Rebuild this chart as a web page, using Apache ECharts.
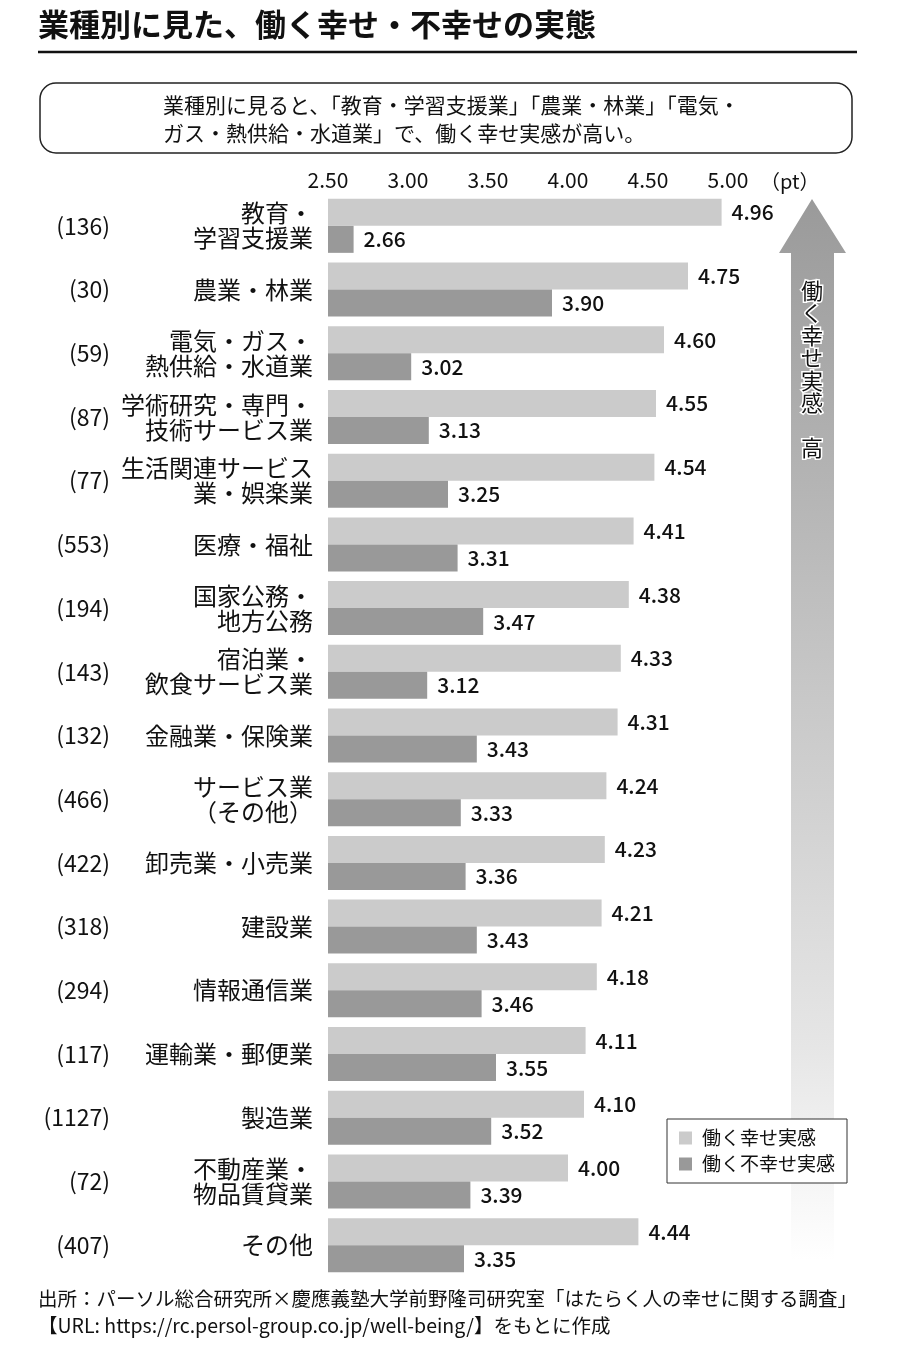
<!DOCTYPE html>
<html>
<head>
<meta charset="utf-8">
<script src="https://cdn.jsdelivr.net/npm/echarts@6/dist/echarts.min.js"></script>
<style>
  html, body { margin: 0; padding: 0; background: #fff; }
  #chart { width: 900px; height: 1346px; }
</style>
</head>
<body>
<div id="chart"></div>
<script>
var FONT = '"Noto Sans CJK JP", "Noto Sans", sans-serif';

// 業種
var categories = [
    '教育・\n学習支援業', '農業・林業', '電気・ガス・\n熱供給・水道業',
    '学術研究・専門・\n技術サービス業', '生活関連サービス\n業・娯楽業', '医療・福祉',
    '国家公務・\n地方公務', '宿泊業・\n飲食サービス業', '金融業・保険業',
    'サービス業\n（その他）', '卸売業・小売業', '建設業', '情報通信業',
    '運輸業・郵便業', '製造業', '不動産業・\n物品賃貸業', 'その他'
];
// 回答者数
var counts = [136, 30, 59, 87, 77, 553, 194, 143, 132, 466, 422, 318, 294, 117, 1127, 72, 407];
// 働く幸せ実感
var happy = [4.96, 4.75, 4.60, 4.55, 4.54, 4.41, 4.38, 4.33, 4.31, 4.24, 4.23, 4.21, 4.18, 4.11, 4.10, 4.00, 4.44];
// 働く不幸せ実感
var unhappy = [2.66, 3.90, 3.02, 3.13, 3.25, 3.31, 3.47, 3.12, 3.43, 3.33, 3.36, 3.43, 3.46, 3.55, 3.52, 3.39, 3.35];

var seriesNames = ['働く幸せ実感', '働く不幸せ実感'];
var countLabels = counts.map(function (c) { return '(' + c + ')'; });

var chart = echarts.init(document.getElementById('chart'));

var valueLabel = {
    show: true,
    position: 'right',
    distance: 10,
    fontFamily: FONT,
    fontSize: 21,
    fontWeight: 500,
    color: '#111',
    formatter: function (p) { return p.value.toFixed(2); }
};

var option = {
    backgroundColor: '#fff',
    textStyle: { fontFamily: FONT },
    grid: { left: 328, right: 172, top: 194, bottom: 69 },
    xAxis: {
        type: 'value',
        position: 'top',
        min: 2.5,
        max: 5.0,
        interval: 0.5,
        axisLine: { show: false },
        axisTick: { show: false },
        splitLine: { show: false },
        axisLabel: {
            margin: 3,
            fontFamily: FONT,
            fontSize: 21,
            color: '#111',
            formatter: function (v) { return v.toFixed(2); }
        }
    },
    yAxis: [{
        type: 'category',
        data: categories,
        inverse: true,
        axisLine: { show: false },
        axisTick: { show: false },
        axisLabel: {
            margin: 15,
            fontFamily: FONT,
            fontSize: 24,
            lineHeight: 25,
            color: '#111',
            align: 'right'
        }
    }, {
        type: 'category',
        data: countLabels,
        inverse: true,
        position: 'left',
        axisLine: { show: false },
        axisTick: { show: false },
        axisLabel: {
            margin: 218,
            fontFamily: FONT,
            fontSize: 23,
            color: '#111',
            align: 'right'
        }
    }],
    legend: {
        data: seriesNames,
        orient: 'vertical',
        left: 667,
        top: 1119,
        z: 10,
        icon: 'rect',
        itemWidth: 13,
        itemHeight: 13,
        itemGap: 6,
        padding: [9, 12, 9, 12],
        borderColor: '#333',
        borderWidth: 1,
        backgroundColor: '#fff',
        textStyle: {
            fontFamily: FONT,
            fontSize: 19,
            lineHeight: 20,
            color: '#111',
            padding: [0, 0, 0, 5]
        }
    },
    series: [{
        name: seriesNames[0],
        type: 'bar',
        data: happy,
        barWidth: 27,
        barGap: '0%',
        itemStyle: { color: '#cbcbcb' },
        label: valueLabel
    }, {
        name: seriesNames[1],
        type: 'bar',
        data: unhappy,
        barWidth: 27,
        barGap: '0%',
        itemStyle: { color: '#999999' },
        label: valueLabel
    }],
    graphic: [
        {
            type: 'text',
            left: 38,
            top: 9,
            style: {
                text: '業種別に見た、働く幸せ・不幸せの実態',
                fontFamily: FONT,
                fontSize: 31,
                fontWeight: 'bold',
                fill: '#111'
            }
        },
        {
            type: 'line',
            shape: { x1: 38, y1: 52, x2: 857, y2: 52 },
            style: { stroke: '#111', lineWidth: 2.5 }
        },
        {
            type: 'rect',
            shape: { x: 40, y: 83, width: 812, height: 70, r: 16 },
            style: { fill: '#fff', stroke: '#222', lineWidth: 1.5 }
        },
        {
            type: 'text',
            x: 163,
            y: 91,
            style: {
                text: '業種別に見ると、「教育・学習支援業」「農業・林業」「電気・\nガス・熱供給・水道業」で、働く幸せ実感が高い。',
                fontFamily: FONT,
                fontSize: 21,
                lineHeight: 28,
                fill: '#111'
            }
        },
        {
            type: 'text',
            x: 760,
            y: 181,
            style: {
                text: '（pt）',
                fontFamily: FONT,
                fontSize: 20,
                fill: '#111',
                verticalAlign: 'middle'
            }
        },
        {
            type: 'polygon',
            z: 1,
            shape: {
                points: [[812, 199], [846, 253], [834, 253], [834, 1260], [791, 1260], [791, 253], [779, 253]]
            },
            style: {
                fill: new echarts.graphic.LinearGradient(0, 0, 0, 1, [
                    { offset: 0, color: '#9a9a9a' },
                    { offset: 0.45, color: '#c6c6c6' },
                    { offset: 0.8, color: '#e6e6e6' },
                    { offset: 1, color: '#ffffff' }
                ])
            }
        },
        {
            type: 'text',
            z: 2,
            x: 812,
            y: 279,
            style: {
                text: '働\nく\n幸\nせ\n実\n感\n\n高',
                fontFamily: FONT,
                fontSize: 22,
                lineHeight: 22.5,
                fill: '#111',
                align: 'center',
                stroke: '#fff',
                lineWidth: 3
            }
        },
        {
            type: 'text',
            x: 38,
            y: 1285,
            style: {
                text: '出所：パーソル総合研究所×慶應義塾大学前野隆司研究室「はたらく人の幸せに関する調査」\n【URL: https://rc.persol-group.co.jp/well-being/】をもとに作成',
                fontFamily: FONT,
                fontSize: 19.5,
                lineHeight: 27,
                fill: '#111'
            }
        }
    ]
};

chart.setOption(option);
</script>
</body>
</html>
